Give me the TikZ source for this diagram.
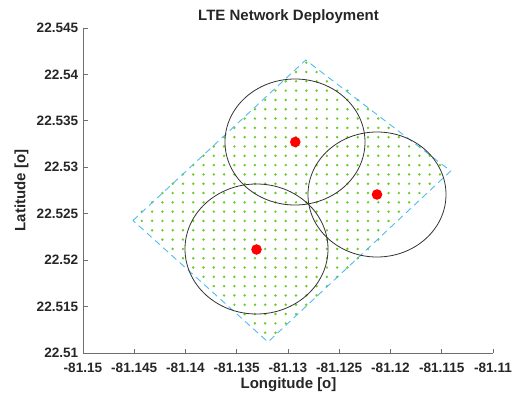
\documentclass[tikz,border=0pt]{standalone}
\usepackage{fontspec}
\setmainfont{Liberation Sans}
\definecolor{dotc}{RGB}{105,205,40}
\definecolor{edgec}{RGB}{77,190,238}
\definecolor{axc}{RGB}{110,110,110}
\definecolor{txtc}{RGB}{38,38,38}
\definecolor{circc}{RGB}{50,50,50}
\begin{document}
\begin{tikzpicture}[x=1pt,y=-1pt,
  ticklab/.style={font=\bfseries\fontsize{13.6}{15}\selectfont, text=txtc, inner sep=0pt},
  axlab/.style={font=\bfseries\fontsize{15}{17}\selectfont, text=txtc, inner sep=0pt},
  axline/.style={draw=axc, line width=0.8pt},
  cell/.style={draw=circc, line width=0.8pt},
  site/.style={fill=red},
  area/.style={draw=edgec, line width=0.9pt, dash pattern=on 6.5pt off 4.5pt}]
\useasboundingbox (0,0) rectangle (515,396);
% grid of user points inside the area
\foreach \i in {-13,...,18}{
  \foreach \j in {-1,...,30}{
    \pgfmathsetmacro\px{265.2+10.28*\i}
    \pgfmathsetmacro\py{62.7+9.31*\j}
    \pgfmathsetmacro\ca{17.27*(\py-220.5)+16.05*(\px-133)}
    \pgfmathsetmacro\cb{14.5*(\py-60)-11.1*(\px-305.7)}
    \pgfmathsetmacro\cc{-18.27*(\py-171)-17.1*(\px-450.7)}
    \pgfmathsetmacro\cd{-13.5*(\py-342)+12.15*(\px-268)}
    \pgfmathtruncatemacro\ins{(\ca>-20)&&(\cb>-20)&&(\cc>-20)&&(\cd>-20)}
    \ifnum\ins=1 \fill[dotc] (\px,\py) circle (1.35); \fi
  }
}
% area boundary
\draw[area] (133,220.5) -- (305.7,60) -- (450.7,171) -- (268,342) -- cycle;
% cells
\draw[cell] (295,142) ellipse [x radius=70, y radius=63];
\draw[cell] (377,194.5) ellipse [x radius=69, y radius=62.5];
\draw[cell] (256.5,249) ellipse [x radius=71.5, y radius=65];
\fill[site] (295.3,142) circle (5.3);
\fill[site] (377,194.5) circle (5.3);
\fill[site] (256.5,249.5) circle (5.3);
% axes
\draw[axline] (83,28) -- (83,353) -- (493,353);
\foreach \k/\lab in {0/-81.15,1/-81.145,2/-81.14,3/-81.135,4/-81.13,5/-81.125,6/-81.12,7/-81.115,8/-81.11}{
  \draw[axline] (83+51.25*\k,353) -- (83+51.25*\k,348.5);
  \node[ticklab] (xt\k) at (83+51.25*\k,368) {\lab};
}
\foreach \k/\lab in {0/22.51,1/22.515,2/22.52,3/22.525,4/22.53,5/22.535,6/22.54,7/22.545}{
  \draw[axline] (83,353-46.43*\k) -- (87.5,353-46.43*\k);
  \node[ticklab, anchor=east] (yt\k) at (78.5,353-46.43*\k) {\lab};
}
\node[axlab] (title) at (288.5,16.5) {LTE Network Deployment};
\node[axlab] (xlab) at (288.5,385) {Longitude [o]};
\node[axlab, rotate=90] (ylab) at (21.5,190.5) {Latitude [o]};
\end{tikzpicture}
\end{document}
